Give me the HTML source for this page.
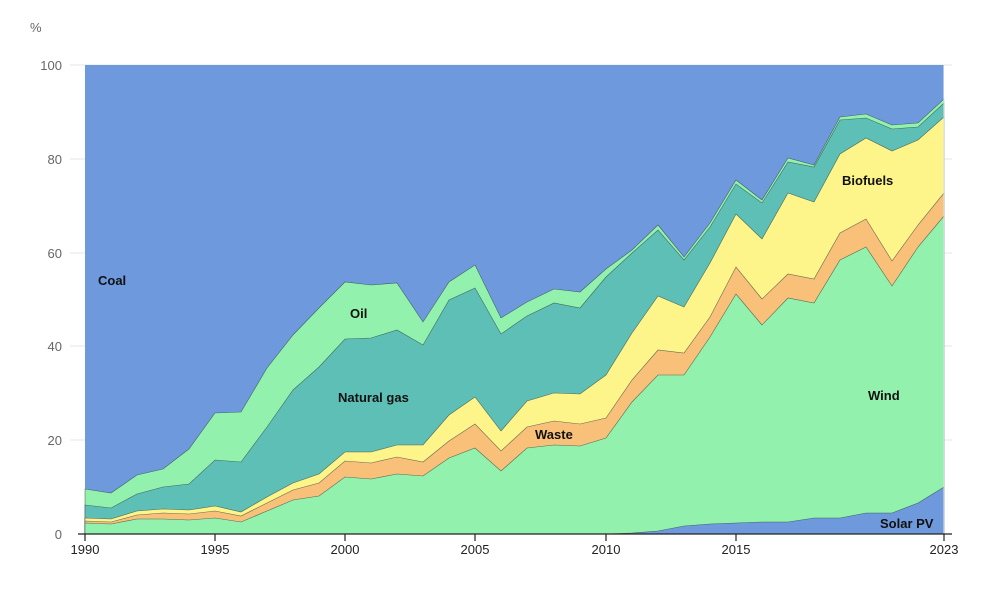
<!DOCTYPE html>
<html><head><meta charset="utf-8"><style>
body{margin:0;background:#fff;}
svg{display:block;font-family:"Liberation Sans",sans-serif;}
.t{font-size:13px;fill:#666;}
.l{font-size:13px;font-weight:bold;fill:#111;}
</style></head><body>
<svg width="1000" height="614" viewBox="0 0 1000 614">
<g stroke="#e6e6e6" stroke-width="1">
<line x1="70" y1="65" x2="952" y2="65"/><line x1="70" y1="159" x2="952" y2="159"/><line x1="70" y1="253" x2="952" y2="253"/><line x1="70" y1="346" x2="952" y2="346"/><line x1="70" y1="440" x2="952" y2="440"/>
</g>
<text class="t" x="30" y="32">%</text>
<g class="t" text-anchor="end">
<text x="62" y="70">100</text><text x="62" y="164">80</text><text x="62" y="258">60</text><text x="62" y="351">40</text><text x="62" y="445">20</text><text x="62" y="539">0</text>
</g>
<g stroke="#2a3a3a" stroke-width="0.6" stroke-opacity="0.7">
<rect x="85" y="65" width="859" height="469" fill="#6f99dd" stroke="none"/>
<polygon fill="#92f2ad" points="85,489 111,493 137,475 163,469 189,449 215,413 241,412 267,368 293,335 319,308 345,282 371,285 397,283 423,322 449,282 475,265 501,318 527,302 554,289 580,292 606,269 632,250 658,225 684,257 710,223 736,180 762,200 788,158 814,165 840,117 866,114 892,125 918,123 944,99 944,534 85,534"/>
<polygon fill="#5dbfb5" points="85,505 111,508 137,494 163,487 189,484 215,460 241,462 267,427 293,390 319,367 345,339 371,338 397,330 423,345 449,300 475,288 501,334 527,316 554,303 580,308 606,277 632,253 658,230 684,260 710,227 736,184 762,203 788,162 814,167 840,120 866,118 892,129 918,127 944,103 944,534 85,534"/>
<polygon fill="#fdf48a" points="85,518 111,519 137,511 163,509 189,510 215,506 241,512 267,497 293,483 319,474 345,452 371,452 397,445 423,445 449,415 475,397 501,431 527,401 554,393 580,394 606,375 632,333 658,296 684,307 710,263 736,214 762,239 788,193 814,202 840,154 866,138 892,151 918,140 944,117 944,534 85,534"/>
<polygon fill="#f9c07a" points="85,521 111,522 137,515 163,513 189,514 215,511 241,516 267,503 293,490 319,483 345,461 371,463 397,457 423,462 449,441 475,424 501,451 527,427 554,421 580,424 606,418 632,380 658,350 684,353 710,317 736,267 762,299 788,274 814,279 840,233 866,219 892,261 918,225 944,193 944,534 85,534"/>
<polygon fill="#92f2ad" points="85,523 111,524 137,519 163,519 189,520 215,518 241,522 267,511 293,500 319,496 345,477 371,479 397,474 423,476 449,458 475,448 501,471 527,448 554,445 580,446 606,438 632,402 658,375 684,375 710,337 736,294 762,325 788,298 814,303 840,260 866,247 892,286 918,247 944,216 944,534 85,534"/>
<polygon fill="#6f99dd" points="85,534 606,534 632,533 658,531 684,526 710,524 736,523 762,522 788,522 814,518 840,518 866,513 892,513 918,503 944,487 944,534 85,534"/>
</g>
<line x1="944" y1="65" x2="944" y2="534" stroke="#fff" stroke-width="1.5" opacity="0.6"/>
<line x1="78" y1="534" x2="952" y2="534" stroke="#222" stroke-width="1.2"/>
<g stroke="#222" stroke-width="1.2">
<line x1="85" y1="534" x2="85" y2="541"/><line x1="215" y1="534" x2="215" y2="541"/><line x1="345" y1="534" x2="345" y2="541"/><line x1="475" y1="534" x2="475" y2="541"/><line x1="606" y1="534" x2="606" y2="541"/><line x1="736" y1="534" x2="736" y2="541"/><line x1="944" y1="534" x2="944" y2="541"/>
</g>
<g class="t" text-anchor="middle" style="fill:#222">
<text x="85" y="554">1990</text><text x="215" y="554">1995</text><text x="345" y="554">2000</text><text x="475" y="554">2005</text><text x="606" y="554">2010</text><text x="736" y="554">2015</text><text x="944" y="554">2023</text>
</g>
<text class="l" x="98" y="285">Coal</text>
<text class="l" x="350" y="318">Oil</text>
<text class="l" x="338" y="402">Natural gas</text>
<text class="l" x="535" y="439">Waste</text>
<text class="l" x="842" y="185">Biofuels</text>
<text class="l" x="868" y="400">Wind</text>
<text class="l" x="880" y="528">Solar PV</text>
</svg>
</body></html>
